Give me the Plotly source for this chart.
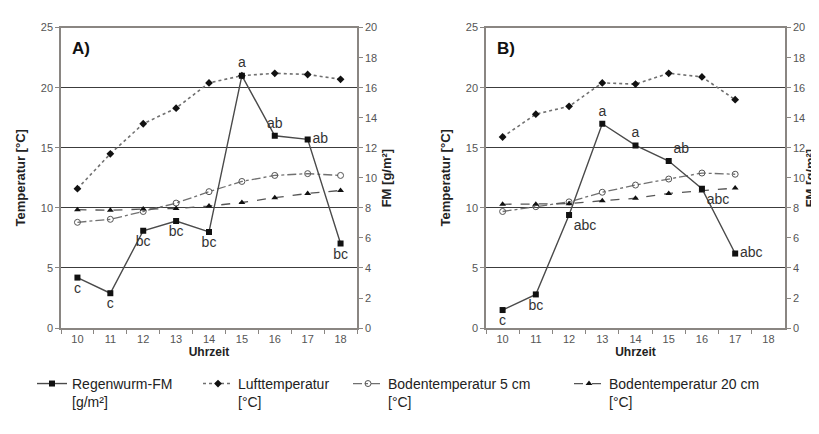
import plotly.graph_objects as go

hours = ["10", "11", "12", "13", "14", "15", "16", "17", "18"]

# Panel A
a_fm = [3.36, 2.32, 6.48, 7.12, 6.4, 16.8, 12.8, 12.56, 5.63]
a_luft = [11.6, 14.5, 17.0, 18.3, 20.4, 21.0, 21.2, 21.1, 20.7]
a_boden5 = [8.8, 9.05, 9.7, 10.4, 11.35, 12.2, 12.7, 12.85, 12.7]
a_boden20 = [9.85, 9.8, 9.9, 9.95, 10.15, 10.45, 10.85, 11.2, 11.45]
a_letters = ["c", "c", "bc", "bc", "bc", "a", "ab", "ab", "bc"]
a_letter_pos = ["bottom center", "bottom center", "bottom center", "bottom center",
                "bottom center", "top center", "top center", "middle right", "bottom center"]

# Panel B
b_hours = ["10", "11", "12", "13", "14", "15", "16", "17"]
b_fm = [1.2, 2.24, 7.52, 13.6, 12.16, 11.12, 9.28, 4.96]
b_luft = [15.9, 17.8, 18.45, 20.4, 20.3, 21.2, 20.9, 19.0]
b_boden5 = [9.7, 10.1, 10.5, 11.3, 11.9, 12.4, 12.9, 12.8]
b_boden20 = [10.3, 10.3, 10.35, 10.6, 10.8, 11.2, 11.4, 11.65]
b_letters = ["c", "bc", "abc", "a", "a", "ab", "abc", "abc"]
b_letter_pos = ["bottom center", "bottom center", "bottom right", "top center",
                "top center", "top right", "bottom right", "middle right"]

FONT = "Arial, Liberation Sans, sans-serif"
AXC = "#8a8682"
GRID = "#3c3c3c"
TICKC = "#555555"

names = ["Regenwurm-FM<br>[g/m²]", "Lufttemperatur<br>[°C]",
         "Bodentemperatur 5 cm<br>[°C]", "Bodentemperatur 20 cm<br>[°C]"]

fig = go.Figure()


def add_panel(x, luft, b5, b20, fm, letters, lpos, xa, ya, ya2, show):
    fig.add_trace(go.Scatter(x=x, y=luft, xaxis=xa, yaxis=ya, mode="lines+markers",
                             name=names[1], legend="legend2", showlegend=show,
                             line=dict(color="#707070", width=1.6, dash="dot"),
                             marker=dict(symbol="diamond", size=6, color="#111")))
    fig.add_trace(go.Scatter(x=x, y=b5, xaxis=xa, yaxis=ya, mode="lines+markers",
                             name=names[2], legend="legend3", showlegend=show,
                             line=dict(color="#707070", width=1.3, dash="dashdot"),
                             marker=dict(symbol="circle-open", size=6, color="#555",
                                         line=dict(width=1))))
    fig.add_trace(go.Scatter(x=x, y=b20, xaxis=xa, yaxis=ya, mode="lines+markers",
                             name=names[3], legend="legend4", showlegend=show,
                             line=dict(color="#555555", width=1.3, dash="dash"),
                             marker=dict(symbol="triangle-up", size=6, color="#111")))
    fig.add_trace(go.Scatter(x=x, y=fm, xaxis=xa, yaxis=ya2, mode="lines+markers+text",
                             name=names[0], legend="legend", showlegend=show,
                             text=letters, textposition=lpos,
                             textfont=dict(family=FONT, size=14, color="#333"),
                             line=dict(color="#4a4a4a", width=1.4),
                             marker=dict(symbol="square", size=6, color="#111")))


add_panel(hours, a_luft, a_boden5, a_boden20, a_fm, a_letters, a_letter_pos, "x", "y", "y2", True)
add_panel(b_hours, b_luft, b_boden5, b_boden20, b_fm, b_letters, b_letter_pos, "x2", "y3", "y4", False)

ydom = [1 - 323 / 434, 1 - 14 / 434]
xdomA = [53 / 819, 349 / 819]
xdomB = [478 / 819, 777 / 819]

xcommon = dict(type="category", categoryorder="array", categoryarray=hours,
               range=[-0.5, 8.5], tickson="boundaries", ticks="outside", ticklen=4,
               tickcolor=AXC, showline=True, linecolor=AXC, linewidth=1.5, mirror=True,
               showgrid=False, tickfont=dict(family=FONT, size=11, color=TICKC),
               title=dict(text="<b>Uhrzeit</b>", font=dict(family=FONT, size=12, color="#222"),
                          standoff=4))
yleft = dict(range=[0, 25], dtick=5, ticks="outside", ticklen=4, tickcolor=AXC,
             showline=True, linecolor=AXC, linewidth=1.5, showgrid=True, gridcolor=GRID,
             gridwidth=1, zeroline=False, domain=ydom,
             tickfont=dict(family=FONT, size=11, color=TICKC),
             title=dict(text="<b>Temperatur [°C]</b>", font=dict(family=FONT, size=13, color="#222"),
                        standoff=12))
yright = dict(range=[0, 20], dtick=2, ticks="outside", ticklen=4, tickcolor=AXC,
              showline=True, linecolor=AXC, linewidth=1.5, showgrid=False, zeroline=False,
              side="right", tickfont=dict(family=FONT, size=11, color=TICKC))

ycenter = 1 - 169 / 434
title_font = dict(family=FONT, size=13, color="#222")
fig.update_layout(
    width=819, height=434, margin=dict(l=0, r=0, t=0, b=0),
    paper_bgcolor="white", plot_bgcolor="white",
    font=dict(family=FONT, color="#222"),
    xaxis=dict(xcommon, domain=xdomA, anchor="y"),
    xaxis2=dict(xcommon, domain=xdomB, anchor="y3"),
    yaxis=dict(yleft, anchor="x"),
    yaxis2=dict(yright, anchor="x", overlaying="y"),
    yaxis3=dict(yleft, anchor="x2"),
    yaxis4=dict(yright, anchor="x2", overlaying="y3"),
    annotations=[
        dict(text="<b>A)</b>", xref="x domain", yref="y domain", x=0.03, y=0.97,
             xanchor="left", yanchor="top", showarrow=False,
             font=dict(family=FONT, size=17, color="#111")),
        dict(text="<b>B)</b>", xref="x2 domain", yref="y3 domain", x=0.03, y=0.97,
             xanchor="left", yanchor="top", showarrow=False,
             font=dict(family=FONT, size=17, color="#111")),
        dict(text="<b>FM [g/m²]</b>", xref="paper", yref="paper", x=378 / 819, y=ycenter,
             xanchor="center", yanchor="middle", textangle=-90, showarrow=False,
             font=title_font),
        dict(text="<b>FM [g/m²]</b>", xref="paper", yref="paper", x=802 / 819, y=ycenter,
             xanchor="center", yanchor="middle", textangle=-90, showarrow=False,
             font=title_font),
    ],
)

leg = dict(orientation="v", yanchor="top", xanchor="left", valign="top",
           font=dict(family=FONT, size=14, color="#222"), bgcolor="rgba(0,0,0,0)",
           itemwidth=30, tracegroupgap=0)
LY = 1 - 364 / 434
fig.update_layout(
    legend=dict(leg, x=24 / 819, y=LY),
    legend2=dict(leg, x=190 / 819, y=LY),
    legend3=dict(leg, x=340 / 819, y=LY),
    legend4=dict(leg, x=561 / 819, y=LY),
)

fig.write_html("out.html")
